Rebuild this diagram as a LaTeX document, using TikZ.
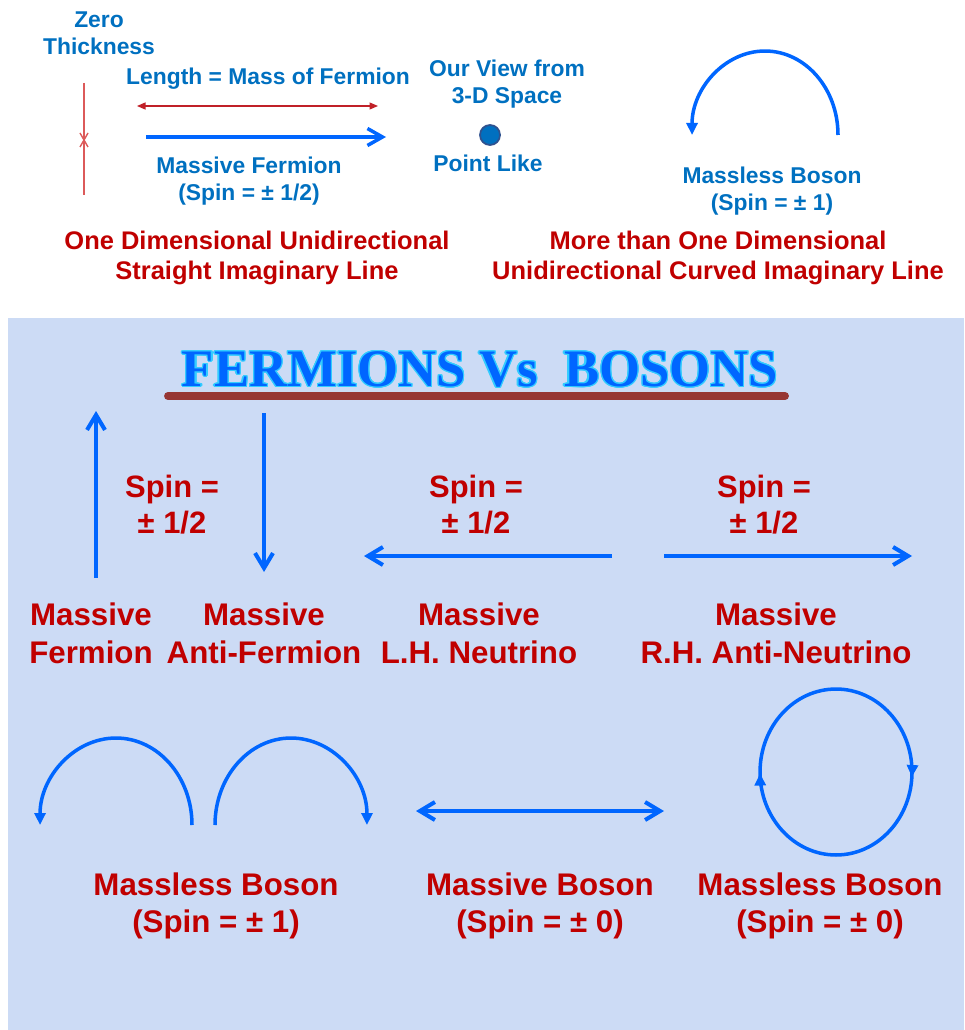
\documentclass[tikz,border=0pt]{standalone}
\usepackage{fontspec}
\setmainfont{Liberation Sans}
\newfontfamily\titlefont{Liberation Serif}
\usepackage{contour}
\contourlength{0.7pt}
\usetikzlibrary{arrows.meta,decorations.markings}

\definecolor{txtblue}{HTML}{0070C0}
\definecolor{txtred}{HTML}{C00000}
\definecolor{arrblue}{HTML}{0066FF}
\definecolor{linered}{HTML}{DC5A5A}
\definecolor{dimred}{HTML}{C02028}
\definecolor{panelblue}{HTML}{CCDBF5}
\definecolor{barbrown}{HTML}{963634}
\definecolor{titlecyan}{HTML}{33CCFF}
\definecolor{dotedge}{HTML}{2F528F}

\begin{document}
\begin{tikzpicture}[
	x=0.02cm, y=-0.02cm,
	every node/.style = {inner sep=0pt, align=center},
	toplabel/.style   = {text=txtblue, font=\bfseries\fontsize{13}{15.4}\selectfont},
	dimlabel/.style   = {text=txtred, font=\bfseries\fontsize{14.5}{17}\selectfont},
	spinlabel/.style  = {text=txtred, font=\bfseries\fontsize{17.6}{20.4}\selectfont},
	partlabel/.style  = {text=txtred, font=\bfseries\fontsize{17.8}{21.5}\selectfont},
	spinarrow/.style  = {draw=arrblue, line width=2.3pt, -{Straight Barb[length=3mm,width=3.6mm]}},
	fermarrow/.style  = {draw=arrblue, line width=2pt, -{Straight Barb[length=3mm,width=3.4mm]}},
	dimarrow/.style   = {draw=dimred, line width=0.7pt, {Triangle[length=1.7mm,width=1.4mm]}-{Triangle[length=1.7mm,width=1.4mm]}},
	bosonarc/.style   = {draw=arrblue, line width=2pt, -{Triangle[length=2.4mm,width=2.2mm]}},
	bosonloop/.style  = {draw=arrblue, line width=2pt, postaction={decorate},
		decoration={markings,
			mark=at position 0.01 with {\arrow{Triangle[length=2.4mm,width=2.2mm]}},
			mark=at position 0.497 with {\arrow{Triangle[length=2.4mm,width=2.2mm]}}}}
	]
	%--- canvas and panel ---
	\useasboundingbox (0,0) rectangle (964,1030);
	\fill[panelblue] (8,318) rectangle (964,1030);
	
	%--- upper part: straight line ---
	\node[toplabel] (zero) at (99,33) {Zero\\Thickness};
	\coordinate (edge top) at (84,83);
	\coordinate (edge bot) at (84,195);
	\draw[linered, line width=0.7pt] (edge top) -- (edge bot);
	\draw[linered, line width=0.8pt] (80,133) -- (88,147) (88,133) -- (80,147);
	
	\node[toplabel] (length) at (268,79) {Length = Mass of Fermion};
	\coordinate (len l) at (137,106);
	\coordinate (len r) at (378,106);
	\draw[dimarrow] (len l) -- (len r);
	
	\coordinate (ferm l) at (146,137);
	\coordinate (ferm r) at (386,137);
	\draw[fermarrow] (ferm l) -- (ferm r);
	\node[toplabel] (fermion) at (249,181) {Massive Fermion\\(Spin = ± 1/2)};
	
	%--- upper part: point and curved line ---
	\node[toplabel] (view) at (507,84) {Our View from\\3-D Space};
	\node[circle, fill=txtblue, draw=dotedge, line width=1pt, minimum size=0.4cm] (dot) at (490,135) {};
	\node[toplabel] (point) at (488,163) {Point Like};
	
	\coordinate (arc r) at (838,135);
	\draw[bosonarc] (arc r) arc[start angle=0, end angle=180, x radius=1.46cm, y radius=1.68cm];
	\node[toplabel] (boson) at (772,191) {Massless Boson\\(Spin = ± 1)};
	
	\node[dimlabel] (onedim) at (257,258) {One Dimensional Unidirectional\\Straight Imaginary Line};
	\node[dimlabel] (moredim) at (718,258) {More than One Dimensional\\Unidirectional Curved Imaginary Line};
	
	%--- title ---
	\node[text=arrblue, font=\titlefont\bfseries\fontsize{30}{36}\selectfont] (title) at (480,370)
		{\contour{titlecyan}{FERMIONS Vs~~BOSONS}};
	\draw[barbrown, line width=4.5pt, line cap=round] (168,396) -- (785,396);
	
	%--- fermions ---
	\coordinate (mf bot) at (96,578);
	\coordinate (mf top) at (96,411);
	\draw[spinarrow] (mf bot) -- (mf top);
	
	\coordinate (maf top) at (264,413);
	\coordinate (maf bot) at (264,572);
	\draw[spinarrow] (maf top) -- (maf bot);
	
	\coordinate (lh r) at (612,556);
	\coordinate (lh l) at (364,556);
	\draw[spinarrow] (lh r) -- (lh l);
	
	\coordinate (rh l) at (664,556);
	\coordinate (rh r) at (912,556);
	\draw[spinarrow] (rh l) -- (rh r);
	
	\node[spinlabel] (spin a) at (172,505) {Spin =\\± 1/2};
	\node[spinlabel] (spin b) at (476,505) {Spin =\\± 1/2};
	\node[spinlabel] (spin c) at (764,505) {Spin =\\± 1/2};
	
	\node[partlabel] (mf)  at (91,633)  {Massive\\Fermion};
	\node[partlabel] (maf) at (264,633) {Massive\\Anti-Fermion};
	\node[partlabel] (mlh) at (479,633) {Massive\\L.H. Neutrino};
	\node[partlabel] (mrh) at (776,633) {Massive\\R.H. Anti-Neutrino};
	
	%--- bosons ---
	\coordinate (hump a) at (192,825);
	\coordinate (hump b) at (215,825);
	\draw[bosonarc] (hump a) arc[start angle=0, end angle=180, x radius=1.52cm, y radius=1.74cm];
	\draw[bosonarc] (hump b) arc[start angle=180, end angle=0, x radius=1.52cm, y radius=1.74cm];
	
	\coordinate (mb l) at (416,811);
	\coordinate (mb r) at (664,811);
	\draw[spinarrow, {Straight Barb[length=3mm,width=3.6mm]}-{Straight Barb[length=3mm,width=3.6mm]}] (mb l) -- (mb r);
	
	\coordinate (loop r) at (912,772);
	\draw[bosonloop] (loop r) arc[start angle=0, end angle=-360, x radius=1.52cm, y radius=1.66cm];
	
	\node[partlabel] (mlb a) at (216,906) {Massless Boson\\(Spin = ± 1)};
	\node[partlabel] (mvb)   at (540,906) {Massive Boson\\(Spin = ± 0)};
	\node[partlabel] (mlb b) at (820,906) {Massless Boson\\(Spin = ± 0)};
\end{tikzpicture}
\end{document}
